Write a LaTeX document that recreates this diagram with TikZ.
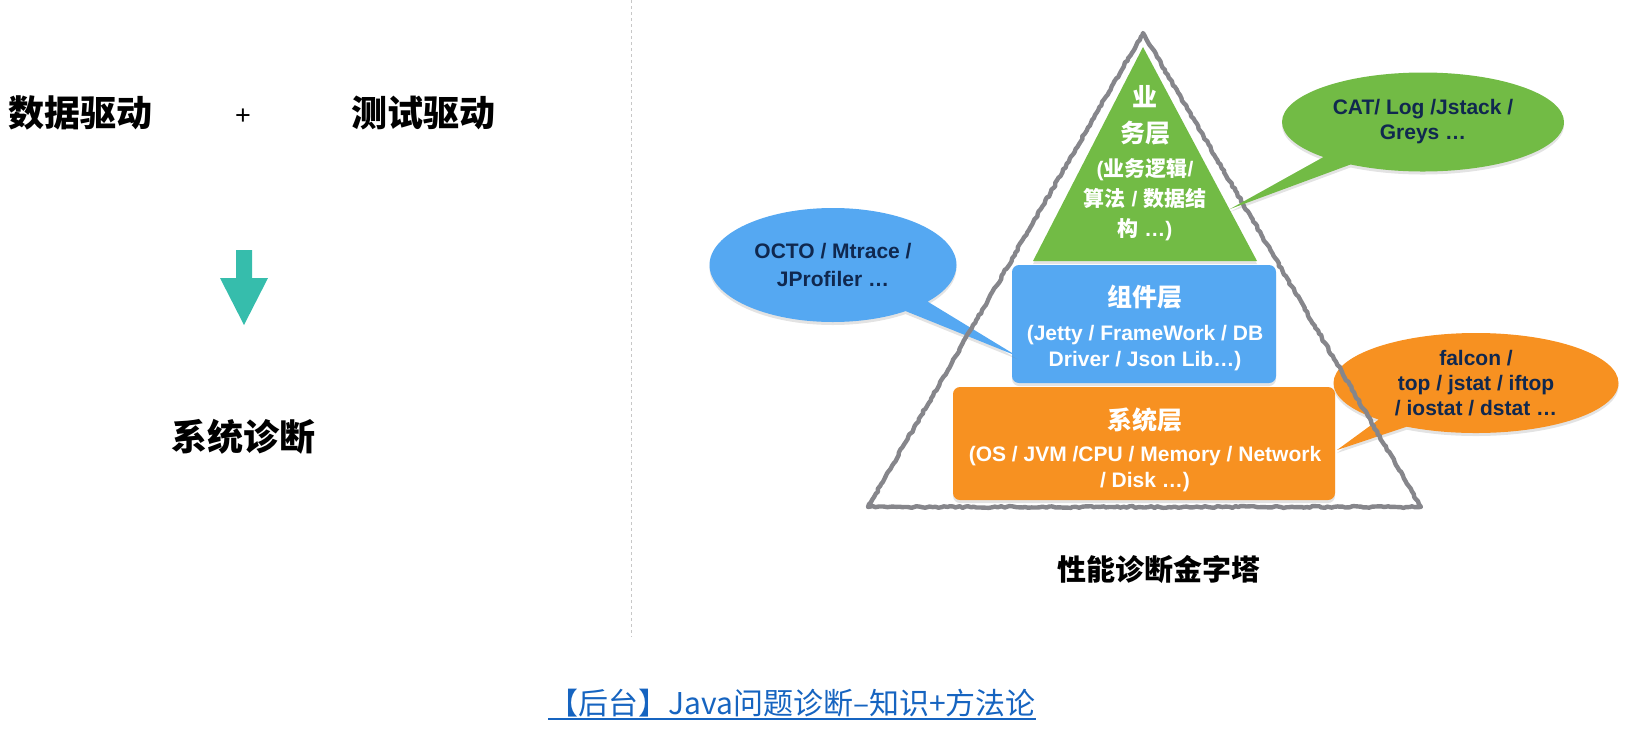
\documentclass[tikz,border=0pt]{standalone}
\usepackage{fontspec}
\setmainfont{Liberation Sans}
\newfontfamily\cjk{Noto Sans CJK SC}
\usetikzlibrary{shapes.callouts,shadows,decorations.pathmorphing}
\definecolor{yewu}{HTML}{72BB45}
\definecolor{zujian}{HTML}{55A8F2}
\definecolor{xitong}{HTML}{F79121}
\definecolor{jiantou}{HTML}{36BDAC}
\definecolor{lunkuo}{HTML}{86868B}
\definecolor{shenlan}{HTML}{10284F}
\definecolor{lianjie}{HTML}{1664C0}
\newcommand{\zuobiao}{%
  \coordinate (apex) at (1143,33);
  \coordinate (bl)   at (868,507);
  \coordinate (br)   at (1421,507);
  \coordinate (gtop) at (1143,47);
  \coordinate (gl)   at (1033,261);
  \coordinate (gr)   at (1257,261);
  \coordinate (gtip) at (1230,209);
  \coordinate (btip) at (1017,356);
  \coordinate (otip) at (1337,450);
}
\tikzset{
  bigtxt/.style={font=\cjk\bfseries\fontsize{36}{42}\selectfont, inner sep=0pt},
  plustxt/.style={font=\fontsize{27}{30}\selectfont, inner sep=0pt},
  captxt/.style={font=\cjk\bfseries\fontsize{29}{34}\selectfont, inner sep=0pt},
  sepline/.style={black!22, line width=1pt, dash pattern=on 3pt off 3pt},
  pyramidline/.style={lunkuo, line width=4.4pt, line join=round,
    decorate, decoration={random steps, segment length=3pt, amplitude=0.9pt}},
  softshadow/.style={drop shadow={opacity=0.22, shadow xshift=0pt, shadow yshift=-3pt}},
  layerbox/.style={rounded corners=7pt, softshadow, inner sep=0pt},
  laytxt/.style={text=white, align=center, font=\bfseries\fontsize{21}{26}\selectfont, inner sep=0pt},
  bubble/.style={ellipse callout, callout pointer arc=14, softshadow, text=shenlan,
    align=center, font=\bfseries\fontsize{21}{25}\selectfont, inner sep=0pt},
  linktxt/.style={text=lianjie, font=\cjk\fontsize{30}{34}\selectfont, inner sep=0pt},
  linkline/.style={lianjie, line width=1.6pt},
}
\newcommand{\ceng}[1]{{\cjk\fontsize{25}{30}\selectfont #1}}

\begin{document}
\begin{tikzpicture}[x=1pt, y=-1pt]
  \useasboundingbox (0,0) rectangle (1632,734);
  \pgfmathsetseed{11}

  % ---------------- esquerda: dois motores ----------------
  \node[bigtxt] (data) at (81,113) {数据驱动};
  \node[plustxt] (plus) at (243,117) {+};
  \node[bigtxt] (test) at (423,113) {测试驱动};
  \fill[jiantou] (236,250) -- (252,250) -- (252,278) -- (268,278)
    -- (244,325) -- (220,278) -- (236,278) -- cycle;
  \node[bigtxt] (diag) at (243,437) {系统诊断};
  \draw[sepline] (631,0) -- (631,637);

  % ---------------- pirâmide ----------------
  \zuobiao
  \fill[yewu, softshadow] (gtop) -- (gr) -- (gl) -- cycle;
  \node[laytxt, font=\bfseries\fontsize{21}{30}\selectfont] (gtxt) at (1145,163)
    {\ceng{业}\\[6pt]\ceng{务层}\\[4pt]({\cjk 业务逻辑}/\\{\cjk 算法} / {\cjk 数据结}\\{\cjk 构} …)};
  \node[layerbox, fill=zujian, minimum width=264, minimum height=118] (zrect) at (1144,324) {};
  \node[laytxt] (ztxt) at (1145,328) {\ceng{组件层}\\[8pt](Jetty / FrameWork / DB\\Driver / Json Lib…)};
  \node[layerbox, fill=xitong, minimum width=382, minimum height=113] (xrect) at (1144,443.5) {};
  \node[laytxt] (xtxt) at (1145,450) {\ceng{系统层}\\[6pt](OS / JVM /CPU / Memory / Network\\/ Disk …)};

  % balões
  \node[bubble, fill=zujian, callout absolute pointer={(btip)}, minimum width=247, minimum height=114,
    font=\bfseries\fontsize{21}{28}\selectfont] (bbub) at (833,265) {OCTO / Mtrace /\\JProfiler …};
  \node[bubble, fill=xitong, callout absolute pointer={(otip)}, minimum width=285, minimum height=100]
    (obub) at (1476,383) {falcon /\\top / jstat / iftop\\/ iostat / dstat …};

  \draw[pyramidline] (apex) -- (br) -- (bl) -- cycle;
  \node[bubble, fill=yewu, callout absolute pointer={(gtip)}, minimum width=282, minimum height=99]
    (gbub) at (1423,122) {CAT/ Log /Jstack /\\Greys …};
  \node[captxt] (pcap) at (1159,569) {性能诊断金字塔};

  % ---------------- título ----------------
  \node[linktxt] (link) at (792,703) {【后台】Java问题诊断–知识+方法论};
  \draw[linkline] ([yshift=-2pt]link.south west) -- ([yshift=-2pt]link.south east);
\end{tikzpicture}
\end{document}
